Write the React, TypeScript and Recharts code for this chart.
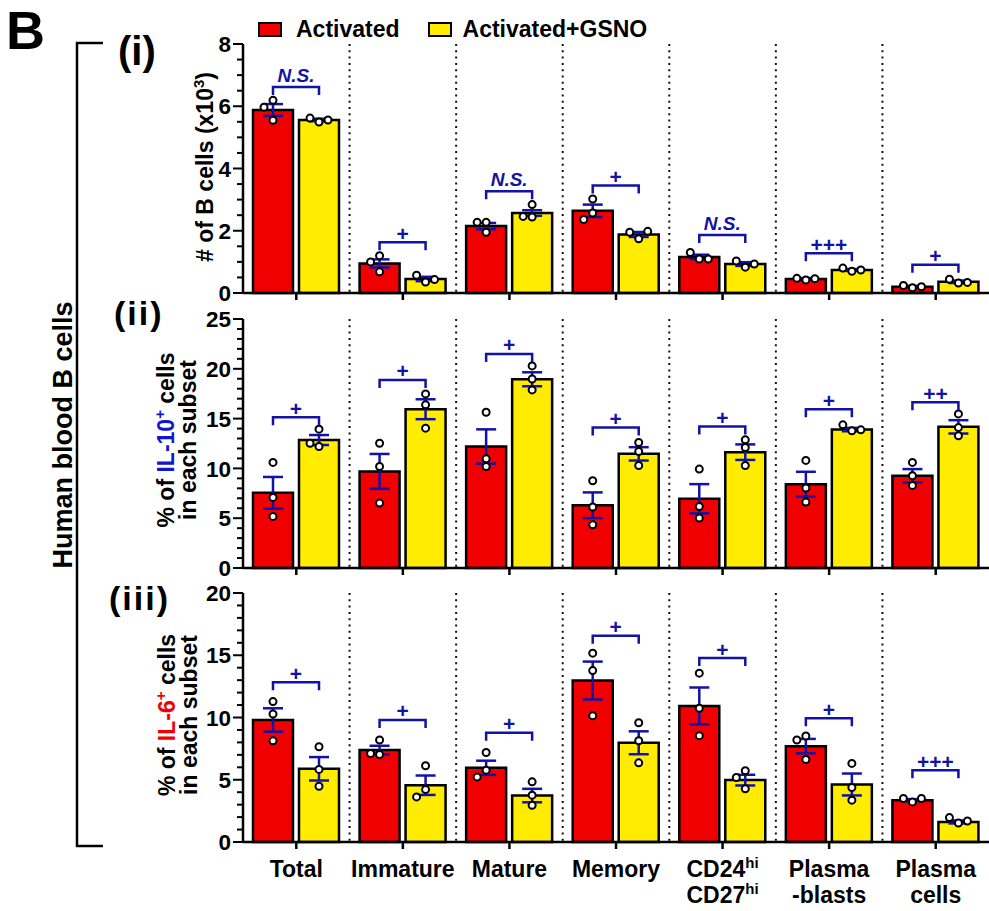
import React from "react";
import {
  BarChart,
  Bar,
  XAxis,
  YAxis,
  CartesianGrid,
  ErrorBar,
  LabelList,
  Legend,
} from "recharts";

const FONT = "'Liberation Sans', Arial, Helvetica, sans-serif";
const RED = "#f00000";
const YELLOW = "#ffec00";
const BLUE = "#1212a6";
const BAR_SIZE = 40;
const BAR_GAP = 6;

// categories + how the x tick labels are broken into lines ([text, superscript])
const categories = ["Total", "Immature", "Mature", "Memory", "CD24hi CD27hi", "Plasma-blasts", "Plasma cells"];
const tickLines: [string, string][][] = [
  [["Total", ""]],
  [["Immature", ""]],
  [["Mature", ""]],
  [["Memory", ""]],
  [["CD24", "hi"], ["CD27", "hi"]],
  [["Plasma", ""], ["-blasts", ""]],
  [["Plasma", ""], ["cells", ""]],
];

// (i) # of B cells (x10^3)
const countMajor = [0, 2, 4, 6, 8];
const countAct = [5.88, 0.95, 2.15, 2.64, 1.16, 0.45, 0.2];
const countGsno = [5.56, 0.45, 2.57, 1.88, 0.93, 0.74, 0.36];
const countActSem = [0.19, 0.13, 0.1, 0.2, 0.07, 0.03, 0.03];
const countGsnoSem = [0.04, 0.07, 0.09, 0.08, 0.06, 0.03, 0.04];
const countActPts = [[6.19, 5.97, 5.55], [1.2, 1.0, 0.68], [2.27, 2.27, 1.95], [3.02, 2.57, 2.36], [1.09, 1.3, 1.09], [0.42, 0.47, 0.46], [0.17, 0.24, 0.2]];
const countGsnoPts = [[5.49, 5.62, 5.56], [0.35, 0.57, 0.43], [2.44, 2.84, 2.46], [1.74, 1.95, 1.98], [0.83, 1.03, 0.93], [0.7, 0.8, 0.74], [0.32, 0.44, 0.34]];
const countBracket = [6.62, 1.63, 3.27, 3.45, 1.86, 1.28, 0.91];
const countSig = ["N.S.", "+", "N.S.", "+", "N.S.", "+++", "+"];

// (ii) % IL-10+ cells
const il10Major = [0, 5, 10, 15, 20, 25];
const il10Act = [7.55, 9.7, 12.2, 6.3, 6.95, 8.42, 9.26];
const il10Gsno = [12.85, 15.94, 18.95, 11.46, 11.63, 13.9, 14.17];
const il10ActSem = [1.59, 1.75, 1.72, 1.29, 1.47, 1.24, 0.67];
const il10GsnoSem = [0.5, 1.0, 0.7, 0.67, 0.78, 0.17, 0.67];
const il10ActPts = [[10.6, 7.09, 5.18], [12.53, 10.19, 6.52], [15.64, 10.96, 10.19], [8.76, 6.12, 4.34], [9.93, 6.18, 5.01], [10.8, 8.02, 6.62], [10.6, 9.26, 8.29]];
const il10GsnoPts = [[12.2, 13.94, 12.53], [17.48, 16.38, 14.04], [20.29, 18.98, 17.88], [12.6, 11.7, 10.29], [12.87, 12.1, 10.29], [13.77, 14.37, 13.87], [15.47, 14.1, 13.27]];
const il10Bracket = [15.14, 18.88, 21.49, 14.1, 14.2, 15.94, 16.64];
const il10Sig = ["+", "+", "+", "+", "+", "+", "++"];

// (iii) % IL-6+ cells
const il6Major = [0, 5, 10, 15, 20];
const il6Act = [9.8, 7.38, 5.96, 12.97, 10.93, 7.7, 3.36];
const il6Gsno = [5.88, 4.56, 3.73, 7.97, 4.97, 4.62, 1.61];
const il6ActSem = [0.94, 0.35, 0.57, 1.52, 1.48, 0.58, 0.08];
const il6GsnoSem = [0.94, 0.78, 0.54, 0.92, 0.43, 0.88, 0.12];
const il6ActPts = [[11.28, 10.28, 8.13], [7.03, 8.19, 7.11], [7.19, 5.77, 5.23], [15.17, 13.77, 10.15], [13.56, 10.74, 8.54], [8.51, 8.19, 6.63], [3.22, 3.49, 3.49]];
const il6GsnoPts = [[7.65, 5.83, 4.48], [6.12, 4.21, 3.62], [4.83, 3.76, 2.95], [9.58, 8.13, 6.36], [5.72, 5.18, 4.27], [6.31, 4.38, 3.36], [1.53, 1.96, 1.69]];
const il6Bracket = [12.83, 9.8, 8.78, 16.56, 14.77, 9.93, 5.77];
const il6Sig = ["+", "+", "+", "+", "+", "+", "+++"];

// spread overlapping points sideways, like a small beeswarm
function swarm(ys: number[], minDist = 7.5, step = 9) {
  const placed: { x: number; y: number }[] = [];
  ys.forEach((y) => {
    for (const dx of [0, -step, step, -2 * step, 2 * step]) {
      if (placed.every((p) => Math.hypot(p.x - dx, p.y - y) >= minDist)) {
        placed.push({ x: dx, y });
        return;
      }
    }
    placed.push({ x: 0, y });
  });
  return placed;
}

// bar geometry gives the y scale: base pixel and px per unit
function barGeom(props: any, values: number[]) {
  const vb = props.viewBox && props.viewBox.width != null ? props.viewBox : props;
  const { x, y, width, height } = vb;
  const i = props.index;
  const k = height / values[i];
  return { x, y, width, height, i, base: y + height, k };
}

function Dots(props: any) {
  const { values, pts } = props;
  const g = barGeom(props, values);
  if (g.i == null || !pts[g.i]) return null;
  const cx = g.x + g.width / 2;
  const placed = swarm(pts[g.i].map((v: number) => g.base - v * g.k));
  return (
    <g>
      {placed.map((p, j) => (
        <circle key={j} cx={cx + p.x} cy={p.y} r={3.5} fill="#fff" stroke="#000" strokeWidth={2} />
      ))}
    </g>
  );
}

function Bracket(props: any) {
  const { values, brackets, sigs } = props;
  const g = barGeom(props, values);
  if (g.i == null) return null;
  const by = g.base - brackets[g.i] * g.k;
  const xr = g.x + g.width / 2;
  const xl = xr - g.width - BAR_GAP;
  const sig = sigs[g.i];
  const ns = sig === "N.S.";
  return (
    <g>
      <path d={`M${xl} ${by + 8} V${by} H${xr} V${by + 8}`} fill="none" stroke={BLUE} strokeWidth={2.5} />
      <text
        x={(xl + xr) / 2}
        y={ns ? by - 5 : by - 1.5}
        textAnchor="middle"
        fill={BLUE}
        fontFamily={FONT}
        fontWeight="bold"
        fontStyle={ns ? "italic" : "normal"}
        fontSize={ns ? 19 : 21}
      >
        {sig}
      </text>
    </g>
  );
}

const YTick = (props: any) => {
  const { x, y, payload, majors } = props;
  const major = majors.includes(payload.value);
  return (
    <g>
      <line x1={x - (major ? 10 : 6)} x2={x} y1={y} y2={y} stroke="#000" strokeWidth={2} />
      {major && (
        <text x={x - 12} y={y} dy="0.36em" textAnchor="end" fontSize={22.5} fontWeight="bold" fontFamily={FONT} fill="#000">
          {payload.value}
        </text>
      )}
    </g>
  );
};

const NoTick = () => <g />;

const XTick = (props: any) => {
  const { x, y, payload } = props;
  const lines = tickLines[categories.indexOf(payload.value)] || [];
  return (
    <g>
      {lines.map(([t, sup], j) => (
        <text key={j} x={x} y={y + 26 + j * 26} textAnchor="middle" fontSize={23} fontWeight="bold" fontFamily={FONT} fill="#000">
          {t}
          {sup && (
            <tspan dy={-9} fontSize={15}>
              {sup}
            </tspan>
          )}
        </text>
      ))}
    </g>
  );
};

const LegendBox = () => (
  <div
    style={{
      display: "flex",
      alignItems: "center",
      height: 30,
      fontFamily: FONT,
      fontWeight: 700,
      fontSize: 23,
      color: "#000",
      whiteSpace: "nowrap",
    }}
  >
    <span style={{ display: "inline-block", width: 24, height: 15, background: RED, border: "2px solid #000", boxSizing: "border-box", marginRight: 14 }} />
    <span style={{ marginRight: 28 }}>Activated</span>
    <span style={{ display: "inline-block", width: 24, height: 15, background: YELLOW, border: "2px solid #000", boxSizing: "border-box", marginRight: 11 }} />
    <span>Activated+GSNO</span>
  </div>
);

interface PanelProps {
  top: number;
  height: number;
  marginTop: number;
  xAxisHeight: number;
  domain: [number, number];
  minorStep: number;
  majors: number[];
  act: number[];
  gsno: number[];
  actSem: number[];
  gsnoSem: number[];
  actPts: number[][];
  gsnoPts: number[][];
  brackets: number[];
  sigs: string[];
  legend?: boolean;
  labels?: boolean;
}

function Panel(p: PanelProps) {
  const rows = categories.map((name, i) => ({
    name,
    act: p.act[i],
    gsno: p.gsno[i],
    actErr: p.actSem[i],
    gsnoErr: p.gsnoSem[i],
  }));
  const ticks: number[] = [];
  for (let v = p.domain[0]; v <= p.domain[1] + 1e-9; v += p.minorStep) ticks.push(+v.toFixed(2));

  return (
    <div style={{ position: "absolute", left: 0, top: p.top }}>
      <BarChart
        width={989}
        height={p.height}
        data={rows}
        margin={{ top: p.marginTop, right: 0, bottom: 0, left: 0 }}
        barSize={BAR_SIZE}
        barGap={BAR_GAP}
      >
        <CartesianGrid
          horizontal={false}
          stroke="#111"
          strokeWidth={2}
          strokeDasharray="2 4.3"
          verticalCoordinatesGenerator={({ offset }: any) =>
            [1, 2, 3, 4, 5, 6].map((i) => offset.left + (i * offset.width) / categories.length)
          }
        />
        <XAxis
          dataKey="name"
          interval={0}
          height={p.xAxisHeight}
          tickSize={7}
          tickMargin={2}
          axisLine={{ stroke: "#000", strokeWidth: 2.5 }}
          tickLine={{ stroke: "#000", strokeWidth: 2.5 }}
          tick={p.labels ? <XTick /> : <NoTick />}
        />
        <YAxis
          type="number"
          domain={p.domain}
          ticks={ticks}
          interval={0}
          width={243}
          tickSize={0}
          tickMargin={0}
          tickLine={false}
          axisLine={{ stroke: "#000", strokeWidth: 2.5 }}
          tick={<YTick majors={p.majors} />}
        />
        {p.legend && (
          <Legend
            verticalAlign="top"
            content={() => <LegendBox />}
            wrapperStyle={{ left: 258, top: 14, width: 520, height: 30 }}
          />
        )}
        <Bar dataKey="act" fill={RED} stroke="#000" strokeWidth={2.5} isAnimationActive={false}>
          <ErrorBar dataKey="actErr" width={10} stroke={BLUE} strokeWidth={2.5} isAnimationActive={false} />
          <LabelList content={(lp: any) => <Dots {...lp} values={p.act} pts={p.actPts} />} />
        </Bar>
        <Bar dataKey="gsno" fill={YELLOW} stroke="#000" strokeWidth={2.5} isAnimationActive={false}>
          <ErrorBar dataKey="gsnoErr" width={10} stroke={BLUE} strokeWidth={2.5} isAnimationActive={false} />
          <LabelList
            content={(lp: any) => (
              <g>
                <Dots {...lp} values={p.gsno} pts={p.gsnoPts} />
                <Bracket {...lp} values={p.gsno} brackets={p.brackets} sigs={p.sigs} />
              </g>
            )}
          />
        </Bar>
      </BarChart>
    </div>
  );
}

export default function App() {
  return (
    <div style={{ position: "absolute", left: 0, top: 0, width: 989, height: 911, background: "#fff", overflow: "hidden" }}>
      <Panel
        top={0}
        height={307}
        marginTop={14}
        xAxisHeight={14}
        domain={[0, 8]}
        minorStep={0.5}
        majors={countMajor}
        act={countAct}
        gsno={countGsno}
        actSem={countActSem}
        gsnoSem={countGsnoSem}
        actPts={countActPts}
        gsnoPts={countGsnoPts}
        brackets={countBracket}
        sigs={countSig}
        legend
      />
      <Panel
        top={303}
        height={279}
        marginTop={16}
        xAxisHeight={14}
        domain={[0, 25]}
        minorStep={1}
        majors={il10Major}
        act={il10Act}
        gsno={il10Gsno}
        actSem={il10ActSem}
        gsnoSem={il10GsnoSem}
        actPts={il10ActPts}
        gsnoPts={il10GsnoPts}
        brackets={il10Bracket}
        sigs={il10Sig}
      />
      <Panel
        top={577}
        height={333}
        marginTop={16}
        xAxisHeight={68}
        domain={[0, 20]}
        minorStep={1}
        majors={il6Major}
        act={il6Act}
        gsno={il6Gsno}
        actSem={il6ActSem}
        gsnoSem={il6GsnoSem}
        actPts={il6ActPts}
        gsnoPts={il6GsnoPts}
        brackets={il6Bracket}
        sigs={il6Sig}
        labels
      />
      <svg
        width={989}
        height={911}
        style={{ position: "absolute", left: 0, top: 0, pointerEvents: "none" }}
        fontFamily={FONT}
        fontWeight="bold"
      >
        <text x={6} y={49} fontSize={54}>B</text>
        <path d="M103 43 H77 V846 H103" fill="none" stroke="#000" strokeWidth={2.5} />
        <text transform="rotate(-90 72 435)" x={72} y={435} textAnchor="middle" fontSize={27}>
          Human blood B cells
        </text>
        <text x={118} y={65} fontSize={40}>(i)</text>
        <text x={114} y={325} fontSize={34} letterSpacing={2}>(ii)</text>
        <text x={109} y={610} fontSize={34} letterSpacing={2}>(iii)</text>

        <text transform="rotate(-90 213 167)" x={213} y={167} textAnchor="middle" fontSize={23}>
          # of B cells (x10<tspan dy={-9} fontSize={15}>3</tspan>
          <tspan dy={9}>)</tspan>
        </text>

        <text transform="rotate(-90 174 440)" x={174} y={440} textAnchor="middle" fontSize={23}>
          % of <tspan fill="#1414d0">IL-10</tspan>
          <tspan fill="#1414d0" dy={-9} fontSize={15}>+</tspan>
          <tspan dy={9}> cells</tspan>
        </text>
        <text transform="rotate(-90 196 440)" x={196} y={440} textAnchor="middle" fontSize={23}>
          in each subset
        </text>

        <text transform="rotate(-90 175 715)" x={175} y={715} textAnchor="middle" fontSize={23}>
          % of <tspan fill="#f00000">IL-6</tspan>
          <tspan fill="#f00000" dy={-9} fontSize={15}>+</tspan>
          <tspan dy={9}> cells</tspan>
        </text>
        <text transform="rotate(-90 197 715)" x={197} y={715} textAnchor="middle" fontSize={23}>
          in each subset
        </text>
      </svg>
    </div>
  );
}
